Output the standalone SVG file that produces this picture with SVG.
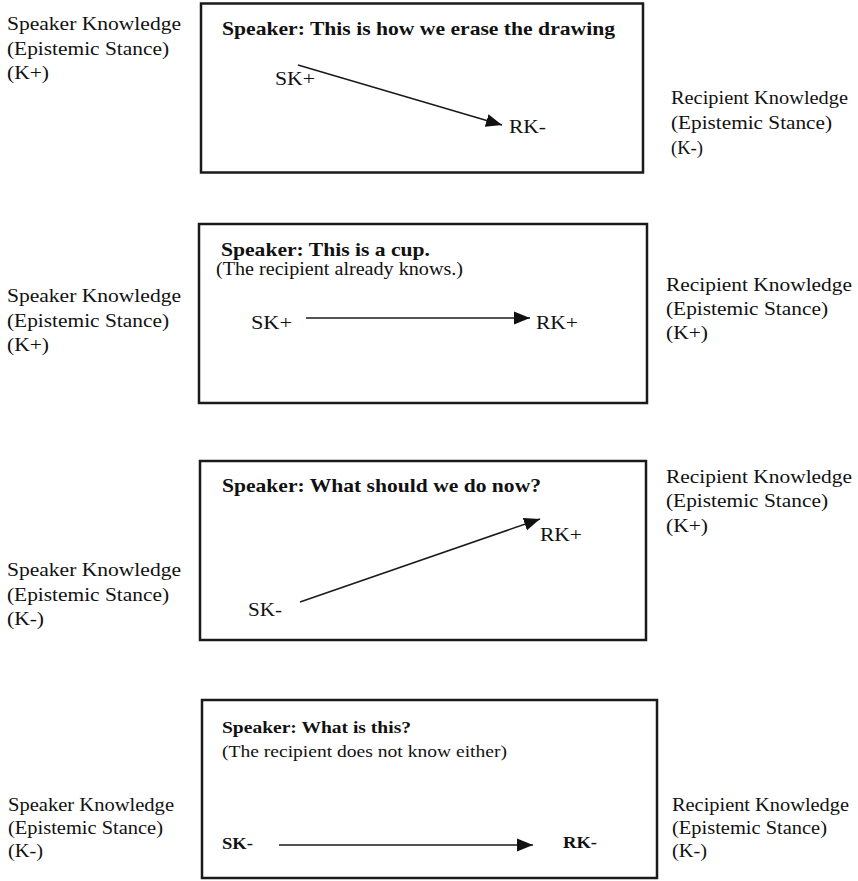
<svg xmlns="http://www.w3.org/2000/svg" width="858" height="881" viewBox="0 0 858 881">
<style>
  text { font-family: "Liberation Serif", "Times New Roman", "DejaVu Serif", serif; fill: #111; }
  .lbl { font-size: 19px; }
  .lbl4 { font-size: 18px; }
  .ttl { font-size: 19px; font-weight: bold; }
  .ttl4 { font-size: 17.5px; font-weight: bold; }
  .sub { font-size: 18px; }
  .sub4 { font-size: 17.5px; }
  .box { fill: #fff; stroke: #1a1a1a; stroke-width: 2.5; }
  .conn { stroke: #1a1a1a; stroke-width: 1.5; fill: none; marker-end: url(#ah); }
</style>
<defs>
  <marker id="ah" markerUnits="userSpaceOnUse" viewBox="0 -8 17 16" markerWidth="17" markerHeight="16" refX="16" refY="0" orient="auto">
    <path d="M0,-6.5 L16,0 L0,6.5 z" fill="#111"/>
  </marker>
</defs>
<rect width="858" height="881" fill="#fff"/>

<!-- Panel 1 -->
<g id="speaker1">
  <text class="lbl" x="7" y="30" textLength="174" lengthAdjust="spacingAndGlyphs">Speaker Knowledge</text>
  <text class="lbl" x="7" y="54.5" textLength="162" lengthAdjust="spacingAndGlyphs">(Epistemic Stance)</text>
  <text class="lbl" x="7" y="79" textLength="42" lengthAdjust="spacingAndGlyphs">(K+)</text>
</g>
<g id="box1">
  <rect class="box" x="201" y="3.5" width="442" height="169"/>
  <text class="ttl" x="222" y="35" textLength="393" lengthAdjust="spacingAndGlyphs">Speaker: This is how we erase the drawing</text>
</g>
<g id="sk1"><text class="lbl" x="275" y="85" textLength="40" lengthAdjust="spacingAndGlyphs">SK+</text></g>
<g id="rk1"><text class="lbl" x="509" y="133" textLength="37" lengthAdjust="spacingAndGlyphs">RK-</text></g>
<g id="recipient1">
  <text class="lbl" x="671" y="104" textLength="177" lengthAdjust="spacingAndGlyphs">Recipient Knowledge</text>
  <text class="lbl" x="671" y="129" textLength="161" lengthAdjust="spacingAndGlyphs">(Epistemic Stance)</text>
  <text class="lbl" x="671" y="154" textLength="32" lengthAdjust="spacingAndGlyphs">(K-)</text>
</g>

<!-- Panel 2 -->
<g id="speaker2">
  <text class="lbl" x="7" y="302" textLength="174" lengthAdjust="spacingAndGlyphs">Speaker Knowledge</text>
  <text class="lbl" x="7" y="326.5" textLength="162" lengthAdjust="spacingAndGlyphs">(Epistemic Stance)</text>
  <text class="lbl" x="7" y="351" textLength="42" lengthAdjust="spacingAndGlyphs">(K+)</text>
</g>
<g id="box2">
  <rect class="box" x="199" y="224" width="448" height="179"/>
  <text class="ttl" x="221" y="256" textLength="209" lengthAdjust="spacingAndGlyphs">Speaker: This is a cup.</text>
  <text class="sub" x="216" y="275" textLength="247" lengthAdjust="spacingAndGlyphs">(The recipient already knows.)</text>
</g>
<g id="sk2"><text class="lbl" x="251" y="329" textLength="41" lengthAdjust="spacingAndGlyphs">SK+</text></g>
<g id="rk2"><text class="lbl" x="536" y="329" textLength="42" lengthAdjust="spacingAndGlyphs">RK+</text></g>
<g id="recipient2">
  <text class="lbl" x="666" y="291" textLength="186" lengthAdjust="spacingAndGlyphs">Recipient Knowledge</text>
  <text class="lbl" x="666" y="315" textLength="162" lengthAdjust="spacingAndGlyphs">(Epistemic Stance)</text>
  <text class="lbl" x="666" y="339" textLength="42" lengthAdjust="spacingAndGlyphs">(K+)</text>
</g>

<!-- Panel 3 -->
<g id="speaker3">
  <text class="lbl" x="7" y="576" textLength="174" lengthAdjust="spacingAndGlyphs">Speaker Knowledge</text>
  <text class="lbl" x="7" y="600.5" textLength="162" lengthAdjust="spacingAndGlyphs">(Epistemic Stance)</text>
  <text class="lbl" x="7" y="625" textLength="37" lengthAdjust="spacingAndGlyphs">(K-)</text>
</g>
<g id="box3">
  <rect class="box" x="200" y="461" width="446" height="179"/>
  <text class="ttl" x="222" y="492" textLength="319" lengthAdjust="spacingAndGlyphs">Speaker: What should we do now?</text>
</g>
<g id="sk3"><text class="lbl" x="248" y="616" textLength="34" lengthAdjust="spacingAndGlyphs">SK-</text></g>
<g id="rk3"><text class="lbl" x="540" y="541" textLength="42" lengthAdjust="spacingAndGlyphs">RK+</text></g>
<g id="recipient3">
  <text class="lbl" x="666" y="483" textLength="186" lengthAdjust="spacingAndGlyphs">Recipient Knowledge</text>
  <text class="lbl" x="666" y="507" textLength="162" lengthAdjust="spacingAndGlyphs">(Epistemic Stance)</text>
  <text class="lbl" x="666" y="532" textLength="42" lengthAdjust="spacingAndGlyphs">(K+)</text>
</g>

<!-- Panel 4 -->
<g id="speaker4">
  <text class="lbl4" x="8" y="811" textLength="166" lengthAdjust="spacingAndGlyphs">Speaker Knowledge</text>
  <text class="lbl4" x="8" y="834" textLength="155" lengthAdjust="spacingAndGlyphs">(Epistemic Stance)</text>
  <text class="lbl4" x="8" y="857" textLength="35" lengthAdjust="spacingAndGlyphs">(K-)</text>
</g>
<g id="box4">
  <rect class="box" x="202" y="700" width="455" height="178"/>
  <text class="ttl4" x="222" y="733" textLength="189" lengthAdjust="spacingAndGlyphs">Speaker: What is this?</text>
  <text class="sub4" x="222" y="757" textLength="285" lengthAdjust="spacingAndGlyphs">(The recipient does not know either)</text>
</g>
<g id="sk4"><text class="ttl4" x="222" y="849" textLength="31" lengthAdjust="spacingAndGlyphs">SK-</text></g>
<g id="rk4"><text class="ttl4" x="563" y="848" textLength="34" lengthAdjust="spacingAndGlyphs">RK-</text></g>
<g id="recipient4">
  <text class="lbl4" x="672" y="811" textLength="177" lengthAdjust="spacingAndGlyphs">Recipient Knowledge</text>
  <text class="lbl4" x="672" y="834" textLength="155" lengthAdjust="spacingAndGlyphs">(Epistemic Stance)</text>
  <text class="lbl4" x="672" y="857" textLength="35" lengthAdjust="spacingAndGlyphs">(K-)</text>
</g>

<!-- Connectors -->
<g id="connectors">
  <line class="conn" x1="298" y1="65" x2="502" y2="125"/>
  <line class="conn" x1="306" y1="318" x2="530" y2="318"/>
  <line class="conn" x1="300" y1="602" x2="540" y2="519"/>
  <line class="conn" x1="279" y1="845" x2="533" y2="845"/>
</g>
</svg>
